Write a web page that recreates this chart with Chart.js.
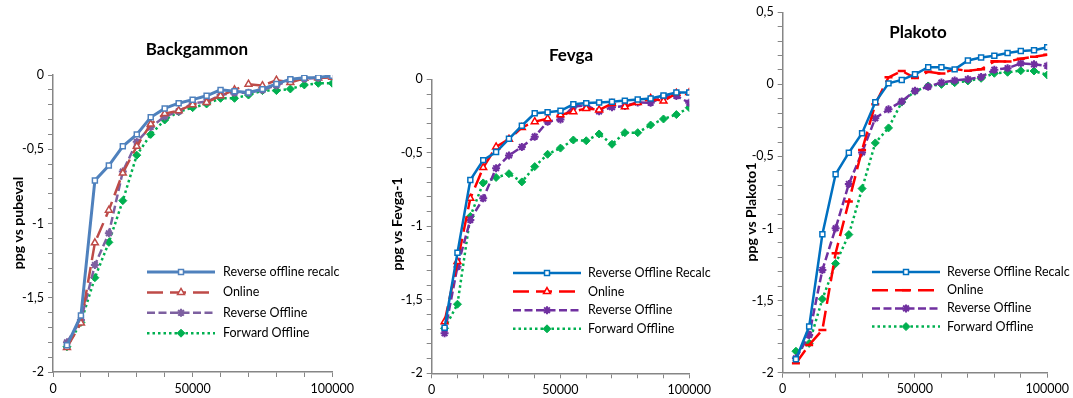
<!DOCTYPE html>
<html>
<head>
<meta charset="utf-8">
<script src="https://cdn.jsdelivr.net/npm/chart.js@4.4.1/dist/chart.umd.min.js"></script>
<style>
  html, body { margin: 0; padding: 0; background: #fff; }
  #wrap { position: relative; width: 1073px; height: 398px; overflow: hidden; }
  .panel { position: absolute; top: 0; }
</style>
</head>
<body>
<div id="wrap">
  <canvas class="panel" id="bg" width="358" height="398" style="left:0px"></canvas>
  <canvas class="panel" id="fv" width="357" height="398" style="left:358px"></canvas>
  <canvas class="panel" id="pk" width="358" height="398" style="left:715px"></canvas>
</div>
<script>
// Training games (x values shared by every series)
const games = [5000, 10000, 15000, 20000, 25000, 30000, 35000, 40000, 45000, 50000,
               55000, 60000, 65000, 70000, 75000, 80000, 85000, 90000, 95000, 100000];

// Backgammon: ppg vs pubeval
const bgRecalc  = [-1.82, -1.62, -0.71, -0.61, -0.48, -0.40, -0.285, -0.225, -0.19, -0.166, -0.14, -0.10, -0.11, -0.118, -0.095, -0.06, -0.028, -0.018, -0.016, -0.005];
const bgOnline  = [-1.835, -1.67, -1.13, -0.91, -0.66, -0.48, -0.33, -0.26, -0.24, -0.20, -0.185, -0.14, -0.10, -0.062, -0.072, -0.035, -0.05, -0.022, -0.02, -0.015];
const bgReverse = [-1.80, -1.65, -1.28, -1.066, -0.65, -0.45, -0.35, -0.28, -0.245, -0.19, -0.18, -0.135, -0.12, -0.12, -0.10, -0.07, -0.035, -0.025, -0.02, -0.01];
const bgForward = [-1.83, -1.666, -1.365, -1.127, -0.846, -0.54, -0.40, -0.303, -0.247, -0.22, -0.195, -0.157, -0.157, -0.135, -0.105, -0.105, -0.094, -0.067, -0.056, -0.056];

// Fevga: ppg vs Fevga-1
const fvRecalc  = [-1.69, -1.18, -0.685, -0.55, -0.495, -0.405, -0.316, -0.231, -0.224, -0.214, -0.17, -0.162, -0.158, -0.153, -0.145, -0.137, -0.13, -0.11, -0.09, -0.09];
const fvOnline  = [-1.65, -1.24, -0.81, -0.60, -0.46, -0.407, -0.328, -0.288, -0.268, -0.242, -0.22, -0.198, -0.208, -0.165, -0.186, -0.158, -0.13, -0.148, -0.095, -0.09];
const fvReverse = [-1.728, -1.275, -0.957, -0.81, -0.605, -0.518, -0.46, -0.39, -0.288, -0.274, -0.186, -0.178, -0.218, -0.19, -0.182, -0.157, -0.16, -0.118, -0.113, -0.16];
const fvForward = [-1.694, -1.53, -0.933, -0.705, -0.668, -0.642, -0.698, -0.594, -0.51, -0.468, -0.413, -0.418, -0.372, -0.442, -0.363, -0.363, -0.311, -0.27, -0.24, -0.193];

// Plakoto: ppg vs Plakoto1
const pkRecalc  = [-1.907, -1.68, -1.04, -0.624, -0.474, -0.339, -0.124, 0.007, 0.031, 0.07, 0.119, 0.119, 0.104, 0.166, 0.187, 0.199, 0.217, 0.231, 0.237, 0.257];
const pkOnline  = [-1.934, -1.807, -1.703, -1.171, -0.813, -0.455, -0.137, 0.049, 0.093, 0.045, 0.087, 0.075, 0.106, 0.094, 0.105, 0.16, 0.158, 0.178, 0.192, 0.206];
const pkReverse = [-1.90, -1.738, -1.287, -0.998, -0.691, -0.472, -0.235, -0.173, -0.118, -0.045, -0.016, 0.013, 0.027, 0.036, 0.051, 0.102, 0.112, 0.146, 0.139, 0.129];
const pkForward = [-1.851, -1.797, -1.489, -1.243, -1.042, -0.723, -0.406, -0.302, -0.123, -0.048, -0.011, 0.0, 0.012, 0.024, 0.042, 0.077, 0.084, 0.095, 0.093, 0.065];

// Axis tick settings
const xMajorTicks = [0, 50000, 100000];
const yMajorStep = 0.5;

const FONT = "Lato, 'Open Sans', sans-serif";
const AXIS_GREY = '#868686';

function points(values) {
  return values.map((v, i) => ({ x: games[i], y: v }));
}

function lineSeries(label, values, color, style) {
  return Object.assign({
    label: label,
    data: points(values),
    borderColor: color,
    pointBorderColor: color,
    backgroundColor: color,
    pointBackgroundColor: color,
    borderWidth: 2.5,
    pointBorderWidth: 1.5,
    pointRadius: 4,
    tension: 0,
    fill: false
  }, style);
}

// Titles, rotated axis title and an in-plot legend
const panelDecor = {
  id: 'panelDecor',
  afterDraw(chart, args, o) {
    const ctx = chart.ctx;
    ctx.save();
    ctx.fillStyle = '#000';
    ctx.textAlign = 'center';
    ctx.textBaseline = 'middle';
    ctx.font = 'bold 17px ' + FONT;
    ctx.fillText(o.title, o.titleX, o.titleY);

    ctx.save();
    ctx.translate(o.yTitleX, o.yTitleY);
    ctx.rotate(-Math.PI / 2);
    ctx.font = 'bold 14px ' + FONT;
    ctx.fillText(o.yTitle, 0, 0);
    ctx.restore();

    chart.data.datasets.forEach((ds, i) => {
      const y = o.legendY + i * o.legendDy;
      const x0 = o.legendX, x1 = o.legendX + o.legendLen;
      ctx.save();
      ctx.strokeStyle = ds.borderColor;
      ctx.lineWidth = ds.borderWidth;
      ctx.setLineDash(ds.borderDash || []);
      ctx.beginPath();
      ctx.moveTo(x0, y);
      ctx.lineTo(x1, y);
      ctx.stroke();
      ctx.setLineDash([]);
      ctx.fillStyle = ds.pointBackgroundColor;
      ctx.strokeStyle = ds.pointBorderColor;
      ctx.lineWidth = ds.pointBorderWidth;
      Chart.helpers.drawPoint(ctx, {
        pointStyle: ds.pointStyle, radius: ds.pointRadius,
        rotation: 0, borderWidth: ds.pointBorderWidth
      }, (x0 + x1) / 2, y);
      ctx.restore();
      ctx.fillStyle = '#000';
      ctx.textAlign = 'left';
      ctx.textBaseline = 'middle';
      ctx.font = '12.5px ' + FONT;
      ctx.fillText(ds.label, x1 + o.legendGap, y);
    });
    ctx.restore();
  }
};

function decimalComma(v) {
  const r = Math.round(v * 10) / 10;
  return String(r).replace('.', ',');
}

function makeChart(id, datasets, yMin, yMax, area, decor) {
  const el = document.getElementById(id);
  return new Chart(el, {
    type: 'line',
    data: { datasets: datasets },
    plugins: [panelDecor],
    options: {
      responsive: false,
      animation: false,
      events: [],
      layout: { padding: { left: 0, top: area.top, right: area.right, bottom: 0 } },
      plugins: {
        legend: { display: false },
        title: { display: false },
        tooltip: { enabled: false },
        panelDecor: decor
      },
      scales: {
        x: {
          type: 'linear', min: 0, max: 100000,
          afterFit: s => { s.height = area.bottom; },
          border: { display: true, color: AXIS_GREY, width: 1.5 },
          grid: { drawOnChartArea: false, drawTicks: true, tickLength: 5, color: AXIS_GREY, lineWidth: 1 },
          ticks: {
            stepSize: 10000, autoSkip: false, maxRotation: 0, padding: 4,
            color: '#000', font: { family: FONT, size: 12.5 },
            callback: v => (xMajorTicks.includes(v) ? String(v) : '')
          }
        },
        y: {
          type: 'linear', min: yMin, max: yMax,
          afterFit: s => { s.width = area.left; },
          border: { display: true, color: AXIS_GREY, width: 1.5 },
          grid: { drawOnChartArea: false, drawTicks: true, tickLength: 5, color: AXIS_GREY, lineWidth: 1 },
          ticks: {
            stepSize: 0.1, autoSkip: false, maxTicksLimit: 100, padding: 4,
            color: '#000', font: { family: FONT, size: 12.5 },
            callback: v => {
              const k = v / yMajorStep;
              return Math.abs(k - Math.round(k)) < 1e-6 ? decimalComma(v) : '';
            }
          }
        }
      }
    }
  });
}

// Backgammon panel (Excel 2007 palette)
makeChart('bg', [
  lineSeries('Reverse offline recalc', bgRecalc, '#4F81BD', { borderWidth: 3, pointStyle: 'rect', pointRadius: 3.5, pointBackgroundColor: '#FFFFFF' }),
  lineSeries('Online', bgOnline, '#BE4B48', { borderDash: [16, 7], pointStyle: 'triangle', pointBackgroundColor: '#FFFFFF' }),
  lineSeries('Reverse Offline', bgReverse, '#7D60A0', { borderDash: [8, 3.5], pointStyle: 'star', pointBorderWidth: 2 }),
  lineSeries('Forward Offline', bgForward, '#00B050', { borderDash: [2.5, 3], pointStyle: 'rectRot', pointBorderWidth: 1 })
], -2, 0, { left: 53, right: 24, top: 75, bottom: 26 }, {
  title: 'Backgammon', titleX: 197, titleY: 50,
  yTitle: 'ppg vs pubeval', yTitleX: 18, yTitleY: 223,
  legendX: 147, legendY: 272, legendDy: 20.4, legendLen: 68, legendGap: 8
});

// Fevga panel
makeChart('fv', [
  lineSeries('Reverse Offline Recalc', fvRecalc, '#0070C0', { pointStyle: 'rect', pointRadius: 3.5, pointBackgroundColor: '#FFFFFF' }),
  lineSeries('Online', fvOnline, '#FF0000', { borderDash: [16, 7], pointStyle: 'triangle', pointBackgroundColor: '#FFFFFF' }),
  lineSeries('Reverse Offline', fvReverse, '#7030A0', { borderDash: [8, 3.5], pointStyle: 'star', pointBorderWidth: 2 }),
  lineSeries('Forward Offline', fvForward, '#00B050', { borderDash: [2.5, 3], pointStyle: 'rectRot', pointBorderWidth: 1 })
], -2, 0, { left: 73.7, right: 25.7, top: 79.3, bottom: 24.7 }, {
  title: 'Fevga', titleX: 213, titleY: 56,
  yTitle: 'ppg vs Fevga-1', yTitleX: 39, yTitleY: 224,
  legendX: 155, legendY: 273, legendDy: 18.6, legendLen: 68, legendGap: 7
});

// Plakoto panel
makeChart('pk', [
  lineSeries('Reverse Offline Recalc', pkRecalc, '#0070C0', { pointStyle: 'rect', pointRadius: 3.5, pointBackgroundColor: '#FFFFFF' }),
  lineSeries('Online', pkOnline, '#FF0000', { borderDash: [16, 7], pointStyle: 'line', pointBorderWidth: 2.5 }),
  lineSeries('Reverse Offline', pkReverse, '#7030A0', { borderDash: [8, 3.5], pointStyle: 'star', pointBorderWidth: 2 }),
  lineSeries('Forward Offline', pkForward, '#00B050', { borderDash: [2.5, 3], pointStyle: 'rectRot', pointBorderWidth: 1 })
], -2, 0.5, { left: 67.7, right: 22.3, top: 12.3, bottom: 25.3 }, {
  title: 'Plakoto', titleX: 203, titleY: 33,
  yTitle: 'ppg vs Plakoto1', yTitleX: 36, yTitleY: 212,
  legendX: 157, legendY: 272, legendDy: 18.2, legendLen: 68, legendGap: 7
});
</script>
</body>
</html>
